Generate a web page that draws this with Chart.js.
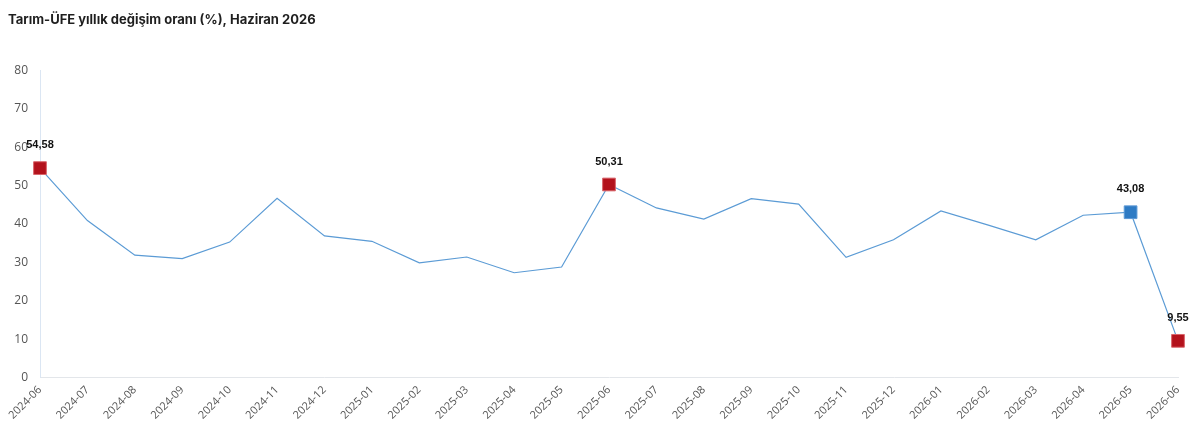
<!DOCTYPE html>
<html>
<head>
<meta charset="utf-8">
<script src="https://cdn.jsdelivr.net/npm/chart.js@4.4.1/dist/chart.umd.min.js"></script>
<style>
html,body{margin:0;padding:0;background:#fff;}
#wrap{width:1200px;height:444px;position:relative;}
</style>
</head>
<body>
<div id="wrap"><canvas id="c" width="1200" height="444"></canvas></div>
<script>
const titleText = 'Tarım-ÜFE yıllık değişim oranı (%), Haziran 2026';
const categories = ['2024-06','2024-07','2024-08','2024-09','2024-10','2024-11','2024-12','2025-01','2025-02','2025-03','2025-04','2025-05','2025-06','2025-07','2025-08','2025-09','2025-10','2025-11','2025-12','2026-01','2026-02','2026-03','2026-04','2026-05','2026-06'];
const values = [54.58, 40.9, 31.9, 31.0, 35.3, 46.7, 36.9, 35.5, 29.9, 31.4, 27.3, 28.8, 50.31, 44.2, 41.3, 46.6, 45.2, 31.3, 35.9, 43.4, 39.7, 35.9, 42.3, 43.08, 9.55];
const redMarkers = [0, 12, 24];
const blueMarkers = [23];
const yTicks = [0,10,20,30,40,50,60,70,80];

const RED = '#B3121C';
const BLUE = '#2E7BC4';
const LINE = '#5B9BD5';

const pointRadius = values.map((v,i) => (redMarkers.includes(i) || blueMarkers.includes(i)) ? 9 : 0);
const pointBg = values.map((v,i) => redMarkers.includes(i) ? RED : (blueMarkers.includes(i) ? BLUE : LINE));
const pointBorder = values.map((v,i) => redMarkers.includes(i) ? '#D9656B' : (blueMarkers.includes(i) ? '#5E9AD6' : LINE));

const labelPlugin = {
  id: 'valueLabels',
  afterDatasetsDraw(chart) {
    const ctx = chart.ctx;
    const meta = chart.getDatasetMeta(0);
    ctx.save();
    ctx.font = 'bold 11px "Liberation Sans", Arial, sans-serif';
    ctx.fillStyle = '#111';
    ctx.textAlign = 'center';
    ctx.textBaseline = 'middle';
    [...redMarkers, ...blueMarkers].forEach(i => {
      const p = meta.data[i];
      const txt = values[i].toFixed(2).replace('.', ',');
      ctx.fillText(txt, p.x, p.y - 23);
    });
    ctx.restore();
  }
};

new Chart(document.getElementById('c'), {
  type: 'line',
  data: {
    labels: categories,
    datasets: [{
      data: values,
      borderColor: LINE,
      borderWidth: 1.2,
      tension: 0,
      pointStyle: 'rect',
      pointRadius: pointRadius,
      pointHoverRadius: pointRadius,
      pointBackgroundColor: pointBg,
      pointBorderColor: pointBorder,
      pointBorderWidth: 1,
      clip: false
    }]
  },
  options: {
    responsive: false,
    animation: false,
    devicePixelRatio: 1,
    layout: { padding: { left: 8, right: 22, top: 0, bottom: 16 } },
    plugins: {
      legend: { display: false },
      tooltip: { enabled: false },
      title: {
        display: true,
        text: titleText,
        align: 'start',
        color: '#1f1f1f',
        font: { family: 'Inter, Roboto, sans-serif', size: 13, weight: 'bold' },
        padding: { top: 12, bottom: 43 }
      }
    },
    scales: {
      x: {
        offset: false,
        grid: { display: false, drawTicks: false },
        border: { display: true, color: '#e3e6ea', width: 1 },
        ticks: {
          color: '#555',
          font: { family: '"Open Sans", sans-serif', size: 11 },
          maxRotation: 45, minRotation: 45,
          autoSkip: false,
          padding: 6
        }
      },
      y: {
        min: 0, max: 80,
        afterBuildTicks(scale) { scale.ticks = yTicks.map(v => ({ value: v })); },
        afterFit(scale) { scale.width = 32; },
        grid: { display: false, drawTicks: false },
        border: { display: true, color: '#dbe6f3', width: 1 },
        ticks: {
          color: '#555',
          font: { family: '"Open Sans", sans-serif', size: 12 },
          padding: 12
        }
      }
    }
  },
  plugins: [labelPlugin]
});
</script>
</body>
</html>
